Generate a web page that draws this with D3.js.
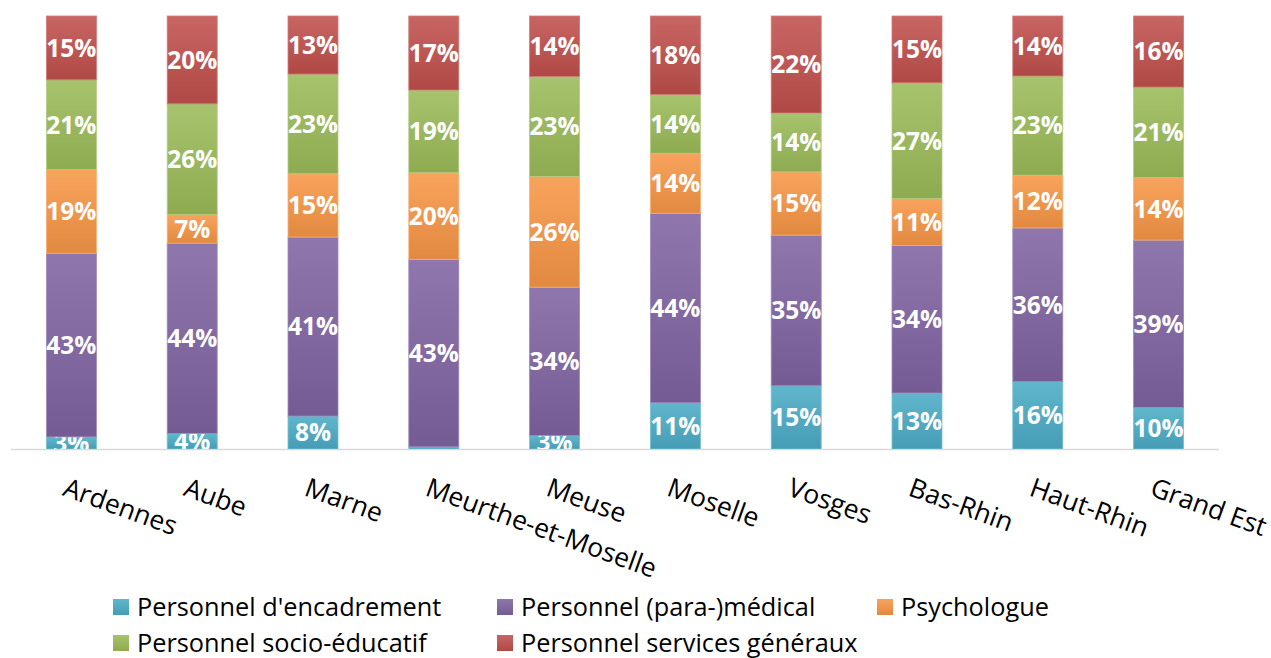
<!DOCTYPE html>
<html>
<head>
<meta charset="utf-8">
<script src="https://cdn.jsdelivr.net/npm/d3@7"></script>
<style>
  body { margin: 0; background: #fff; }
  svg { display: block; font-family: "Open Sans", sans-serif; }
</style>
</head>
<body>
<script>
// categories (departements) and the five staff groups, bottom to top
const categories = ["Ardennes", "Aube", "Marne", "Meurthe-et-Moselle", "Meuse",
                    "Moselle", "Vosges", "Bas-Rhin", "Haut-Rhin", "Grand Est"];
const encadrement      = [2.8, 3.6, 7.6, 0.5, 3.1, 10.7, 14.6, 12.9, 15.6, 9.6];
const paramedical      = [42.6, 44.0, 41.3, 43.3, 34.3, 43.9, 34.8, 34.0, 35.6, 38.6];
const psychologue      = [19.4, 6.6, 14.6, 20.0, 25.6, 13.9, 14.6, 10.8, 12.2, 14.4];
const socioEducatif    = [20.8, 25.6, 23.0, 19.1, 23.1, 13.6, 13.6, 26.7, 23.0, 20.9];
const servicesGeneraux = [14.8, 20.3, 13.4, 17.1, 14.0, 18.2, 22.4, 15.4, 13.9, 16.4];

const seriesNames = ["Personnel d'encadrement", "Personnel (para-)médical", "Psychologue",
                     "Personnel socio-éducatif", "Personnel services généraux"];
const seriesKeys = ["enc", "med", "psy", "soc", "gen"];
const seriesColors = ["#4BACC6", "#8064A2", "#F79646", "#9BBB59", "#C0504D"];

const width = 1271, height = 658;
const plot = {left: 11, right: 1219, top: 16, bottom: 449};

// build table rows for d3.stack
const rows = categories.map((c, i) => ({
  cat: c,
  enc: encadrement[i], med: paramedical[i], psy: psychologue[i],
  soc: socioEducatif[i], gen: servicesGeneraux[i]
}));

const stack = d3.stack().keys(seriesKeys).offset(d3.stackOffsetExpand);
const layers = stack(rows);

const x = d3.scaleBand()
  .domain(categories)
  .range([plot.left, plot.right])
  .paddingInner(0.586)
  .paddingOuter(0.293);

const y = d3.scaleLinear()
  .domain([0, 1])
  .range([plot.bottom, plot.top]);

const svg = d3.select("body").append("svg")
  .attr("width", width)
  .attr("height", height);

// vertical gradients, lighter at the top like the office theme
const defs = svg.append("defs");
seriesKeys.forEach((k, i) => {
  const base = seriesColors[i];
  const g = defs.append("linearGradient")
    .attr("id", "grad-" + k)
    .attr("x1", 0).attr("y1", 0).attr("x2", 0).attr("y2", 1);
  g.append("stop").attr("offset", "0%").attr("stop-color", d3.interpolateRgb(base, "#fff")(0.12));
  g.append("stop").attr("offset", "100%").attr("stop-color", d3.color(base).darker(0.25));
});

defs.append("clipPath").attr("id", "plot-clip")
  .append("rect")
  .attr("x", 0).attr("y", 0)
  .attr("width", width).attr("height", plot.bottom);

// axis line
svg.append("line")
  .attr("x1", plot.left).attr("x2", plot.right)
  .attr("y1", plot.bottom + 0.5).attr("y2", plot.bottom + 0.5)
  .attr("stroke", "#d9d9d9")
  .attr("stroke-width", 1.5);

const chart = svg.append("g").attr("clip-path", "url(#plot-clip)");

const layer = chart.selectAll("g.layer")
  .data(layers)
  .join("g")
  .attr("class", "layer");

layer.selectAll("rect")
  .data(d => d.map(p => ({p: p, key: d.key})))
  .join("rect")
  .attr("x", d => x(d.p.data.cat))
  .attr("width", x.bandwidth())
  .attr("y", d => y(d.p[1]))
  .attr("height", d => y(d.p[0]) - y(d.p[1]))
  .attr("fill", d => "url(#grad-" + d.key + ")")
  .attr("stroke", d => d3.interpolateRgb(seriesColors[seriesKeys.indexOf(d.key)], "#fff")(0.25))
  .attr("stroke-width", 0.8);

// value labels, centred in each segment
layer.selectAll("text")
  .data(d => d.map(p => ({p: p, key: d.key})).filter(d => d.p.data[d.key] >= 1))
  .join("text")
  .attr("x", d => x(d.p.data.cat) + x.bandwidth() / 2)
  .attr("y", d => (y(d.p[0]) + y(d.p[1])) / 2)
  .attr("dy", "0.36em")
  .attr("text-anchor", "middle")
  .attr("fill", "#fff")
  .attr("font-weight", "bold")
  .attr("font-size", 24.5)
  .text(d => Math.round(d.p.data[d.key]) + "%");

// rotated category labels
svg.append("g").selectAll("text")
  .data(categories)
  .join("text")
  .attr("transform", d => "translate(" + (x(d) + x.bandwidth() / 2 - 3) + "," + 476 + ") rotate(20)")
  .attr("dy", "0.76em")
  .attr("font-size", 26.5)
  .attr("fill", "#000")
  .text(d => d);

// legend
const legendPos = [
  {x: 113, y: 607}, {x: 497, y: 607}, {x: 877, y: 607},
  {x: 113, y: 643}, {x: 497, y: 643}
];
const legend = svg.append("g").selectAll("g")
  .data(seriesNames)
  .join("g")
  .attr("transform", (d, i) => "translate(" + legendPos[i].x + "," + legendPos[i].y + ")");

legend.append("rect")
  .attr("x", 0).attr("y", -8)
  .attr("width", 16).attr("height", 16)
  .attr("fill", (d, i) => "url(#grad-" + seriesKeys[i] + ")");

legend.append("text")
  .attr("x", 24)
  .attr("dy", "0.36em")
  .attr("font-size", 25.3)
  .attr("fill", "#000")
  .text(d => d);
</script>
</body>
</html>
